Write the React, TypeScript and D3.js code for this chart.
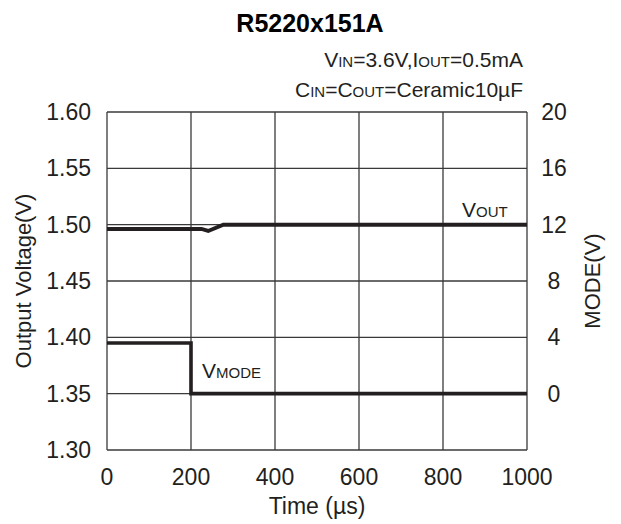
import * as d3 from 'd3'

// Vout trace (time µs, volts)
const voutTime = [0, 225, 241, 277, 1000]
const voutValue = [1.4962, 1.4962, 1.4944, 1.5, 1.5]

// Vmode trace (time µs, volts on right axis)
const modeTime = [0, 200, 200, 1000]
const modeValue = [3.6, 3.6, 0, 0]

const xTicks = [0, 200, 400, 600, 800, 1000]
const yTicks = [1.3, 1.35, 1.4, 1.45, 1.5, 1.55, 1.6]
const y2Ticks = [0, 4, 8, 12, 16, 20]

const FONT = '"Liberation Sans", Arial, Helvetica, sans-serif'
const INK = '#231f20'
const GRID = '#3a3a3a'

export default function App() {
  const width = 621
  const height = 524
  const left = 107
  const right = 527
  const top = 112
  const bottom = 450

  const x = d3.scaleLinear().domain([0, 1000]).range([left, right])
  const y = d3.scaleLinear().domain([1.3, 1.6]).range([bottom, top])
  // right axis: 0 sits on 1.35, 20 on 1.60
  const y2 = d3.scaleLinear().domain([-4, 20]).range([bottom, top])

  const voutLine = d3.line<number>()
    .x((_, i) => x(voutTime[i]))
    .y(d => y(d))
  const modeLine = d3.line<number>()
    .x((_, i) => x(modeTime[i]))
    .y(d => y2(d))

  return (
    <svg
      width={width}
      height={height}
      style={{ position: 'absolute', left: 0, top: 0, background: '#fff' }}
      fontFamily={FONT}
    >
      {/* gridlines */}
      {yTicks.map(t => (
        <line key={'gy' + t} x1={left} x2={right} y1={y(t)} y2={y(t)} stroke={GRID} strokeWidth={1.3} />
      ))}
      {xTicks.map(t => (
        <line key={'gx' + t} x1={x(t)} x2={x(t)} y1={top} y2={bottom} stroke={GRID} strokeWidth={1.3} />
      ))}

      {/* traces */}
      <path d={voutLine(voutValue) ?? ''} fill="none" stroke={INK} strokeWidth={4} strokeLinejoin="miter" />
      <path d={modeLine(modeValue) ?? ''} fill="none" stroke={INK} strokeWidth={3.6} strokeLinejoin="miter" />

      {/* left tick labels */}
      {yTicks.map(t => (
        <text key={'ly' + t} x={91} y={y(t)} dy="0.35em" textAnchor="end" fontSize={23} fill={INK}>
          {t.toFixed(2)}
        </text>
      ))}
      {/* right tick labels */}
      {y2Ticks.map(t => (
        <text key={'ry' + t} x={554} y={y2(t)} dy="0.35em" textAnchor="middle" fontSize={23} fill={INK}>
          {t}
        </text>
      ))}
      {/* x tick labels */}
      {xTicks.map(t => (
        <text key={'lx' + t} x={x(t)} y={485} textAnchor="middle" fontSize={23} fill={INK}>
          {t}
        </text>
      ))}

      {/* axis titles */}
      <text x={317} y={514} textAnchor="middle" fontSize={23} fill={INK}>Time (µs)</text>
      <text transform={`translate(31,${(top + bottom) / 2}) rotate(-90)`} textAnchor="middle" fontSize={22} fill={INK}>
        Output Voltage(V)
      </text>
      <text transform={`translate(600,${(top + bottom) / 2}) rotate(-90)`} textAnchor="middle" fontSize={22} fill={INK}>
        MODE(V)
      </text>

      {/* title and conditions */}
      <text x={310} y={32} textAnchor="middle" fontSize={25} fontWeight="bold" fill="#000">R5220x151A</text>
      <text x={523} y={67} textAnchor="end" fontSize={21} fill={INK}>
        V<tspan fontSize={15}>IN</tspan>=3.6V,I<tspan fontSize={15}>OUT</tspan>=0.5mA
      </text>
      <text x={523} y={97} textAnchor="end" fontSize={21} fill={INK}>
        C<tspan fontSize={15}>IN</tspan>=C<tspan fontSize={15}>OUT</tspan>=Ceramic10µF
      </text>

      {/* trace labels */}
      <text x={462} y={217} fontSize={21} fill={INK}>
        V<tspan fontSize={15}>OUT</tspan>
      </text>
      <text x={202} y={378} fontSize={21} fill={INK}>
        V<tspan fontSize={15}>MODE</tspan>
      </text>
    </svg>
  )
}
